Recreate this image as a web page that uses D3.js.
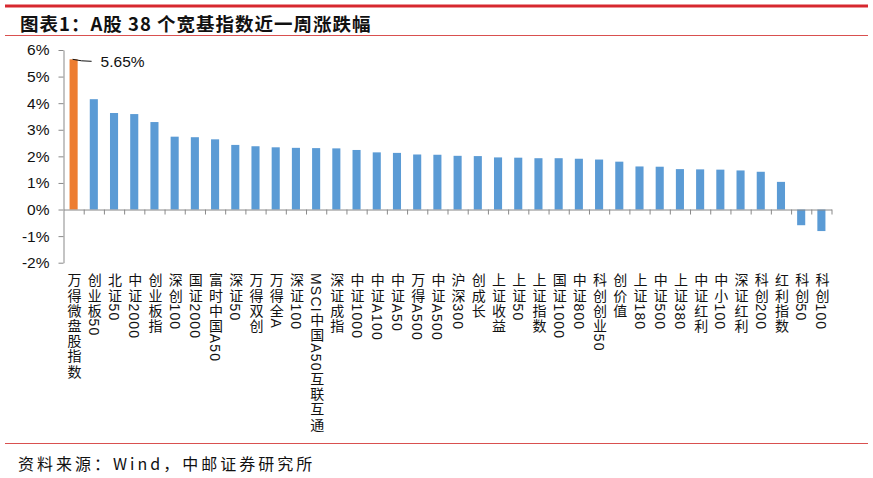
<!DOCTYPE html>
<html>
<head>
<meta charset="utf-8">
<script src="https://cdn.jsdelivr.net/npm/d3@7"></script>
<style>
  body { margin: 0; background: #fff; }
  svg { display: block; }
  .lbl { font-family: "Liberation Sans", "Noto Sans CJK SC", sans-serif; }
</style>
</head>
<body>
<div id="container"></div>
<script>
var width = 873, height = 478;

// index names, in chart order
var names = [
  "万得微盘股指数", "创业板50", "北证50", "中证2000", "创业板指", "深创100",
  "国证2000", "富时中国A50", "深证50", "万得双创", "万得全A", "深证100",
  "MSCI中国A50互联互通", "深证成指", "中证1000", "中证A100", "中证A50", "万得A500",
  "中证A500", "沪深300", "创成长", "上证收益", "上证50", "上证指数",
  "国证1000", "中证800", "科创创业50", "创价值", "上证180", "中证500",
  "上证380", "中证红利", "中小100", "深证红利", "科创200", "红利指数",
  "科创50", "科创100"
];

// weekly change, %
var changes = [
  5.65, 4.15, 3.63, 3.59, 3.29, 2.74,
  2.72, 2.64, 2.43, 2.38, 2.34, 2.32,
  2.31, 2.30, 2.24, 2.15, 2.13, 2.07,
  2.06, 2.02, 2.01, 1.96, 1.95, 1.93,
  1.93, 1.91, 1.88, 1.80, 1.62, 1.61,
  1.52, 1.51, 1.50, 1.47, 1.42, 1.04,
  -0.59, -0.81
];

var yTicks = [-2, -1, 0, 1, 2, 3, 4, 5, 6];
var highlight = "万得微盘股指数";

var data = names.map(function(n, i) { return { name: n, value: changes[i] }; });

var svg = d3.select("#container").append("svg")
    .attr("width", width)
    .attr("height", height);

//Header: red rules and title
svg.append("line").attr("x1", 5).attr("x2", 868).attr("y1", 6).attr("y2", 6)
    .attr("stroke", "#d7282f").attr("stroke-width", 3);
svg.append("line").attr("x1", 5).attr("x2", 868).attr("y1", 35.5).attr("y2", 35.5)
    .attr("stroke", "#d9504f").attr("stroke-width", 1);
svg.append("text")
    .attr("x", 20).attr("y", 31)
    .attr("font-family", "'Noto Sans CJK SC', sans-serif")
    .attr("font-weight", "bold")
    .attr("font-size", 18.5)
    .attr("letter-spacing", 1)
    .attr("fill", "#111")
    .text("图表1：A股 38 个宽基指数近一周涨跌幅");

//Footer
svg.append("line").attr("x1", 5).attr("x2", 868).attr("y1", 443.5).attr("y2", 443.5)
    .attr("stroke", "#d9504f").attr("stroke-width", 1);
svg.append("text")
    .attr("x", 18).attr("y", 470)
    .attr("font-family", "'Noto Sans CJK SC', sans-serif")
    .attr("font-size", 16)
    .attr("letter-spacing", 3)
    .attr("fill", "#111")
    .text("资料来源：Wind，中邮证券研究所");

//Scales
var plot = { left: 63.5, right: 831.5, top: 50, bottom: 262.7 };

var x = d3.scaleBand()
    .domain(names)
    .range([plot.left, plot.right])
    .paddingInner(0.6)
    .paddingOuter(0.3);

var xIdx = d3.scaleLinear()
    .domain([0, names.length])
    .range([plot.left, plot.right]);

var y = d3.scaleLinear()
    .domain([-2, 6])
    .range([plot.bottom, plot.top]);

//Bars
svg.append("g").selectAll("rect")
    .data(data)
    .enter()
    .append("rect")
    .attr("x", function(d) { return x(d.name); })
    .attr("width", x.bandwidth())
    .attr("y", function(d) { return y(Math.max(0, d.value)); })
    .attr("height", function(d) { return Math.abs(y(d.value) - y(0)); })
    .attr("fill", function(d) { return d.name === highlight ? "#ed7d31" : "#5b9bd5"; });

//Y axis
var yAxis = svg.append("g")
    .attr("transform", "translate(" + plot.left + ",0)")
    .call(d3.axisLeft(y)
        .tickValues(yTicks)
        .tickFormat(function(d) { return d + "%"; })
        .tickSize(5)
        .tickSizeOuter(0)
        .tickPadding(9));
yAxis.select(".domain").attr("stroke", "#898989");
yAxis.selectAll(".tick line").attr("stroke", "#898989");
yAxis.selectAll(".tick text")
    .attr("font-family", "'Liberation Sans', Arial, sans-serif")
    .attr("font-size", 15.5)
    .attr("fill", "#111");

//Zero line with category ticks
var xAxis = svg.append("g")
    .attr("transform", "translate(0," + y(0) + ")")
    .call(d3.axisBottom(xIdx)
        .tickValues(d3.range(1, names.length + 1))
        .tickFormat("")
        .tickSize(5)
        .tickSizeOuter(0));
xAxis.select(".domain").attr("stroke", "#898989");
xAxis.selectAll(".tick line").attr("stroke", "#898989");

//Vertical category labels
svg.append("g").selectAll("text")
    .data(data)
    .enter()
    .append("text")
    .attr("class", "lbl")
    .attr("x", function(d) { return x(d.name) + x.bandwidth() / 2; })
    .attr("y", 273)
    .style("writing-mode", "vertical-rl")
    .attr("font-size", 14)
    .attr("letter-spacing", 1.2)
    .attr("fill", "#111")
    .text(function(d) { return d.name; });

//Callout for the top bar
var first = data[0];
var tx = x(first.name) + x.bandwidth() / 2;
var ty = y(first.value);
svg.append("path")
    .attr("d", "M" + (tx - 1) + "," + ty + "L" + (tx + 8) + "," + (ty + 1.5) + "L" + (tx + 18) + "," + (ty + 2))
    .attr("fill", "none")
    .attr("stroke", "#111")
    .attr("stroke-width", 1);
svg.append("text")
    .attr("x", tx + 27)
    .attr("y", ty + 8)
    .attr("font-family", "'Liberation Sans', Arial, sans-serif")
    .attr("font-size", 15.5)
    .attr("fill", "#111")
    .text(first.value.toFixed(2) + "%");
</script>
</body>
</html>
